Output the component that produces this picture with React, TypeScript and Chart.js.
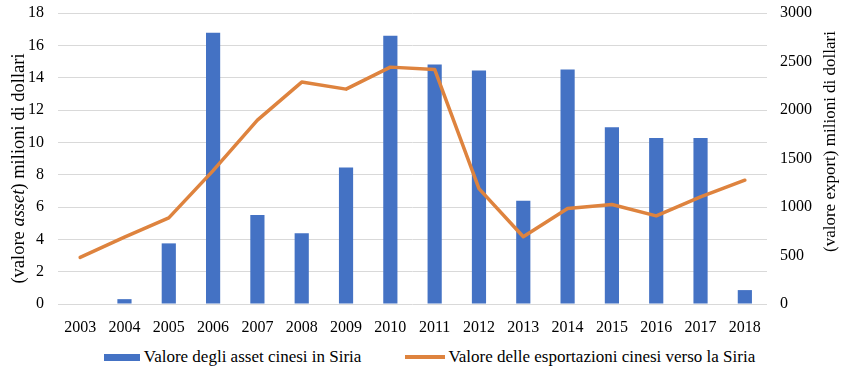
import React, { useEffect, useRef } from "react";
import { Chart, registerables } from "chart.js";

Chart.register(...registerables);

const years = ["2003", "2004", "2005", "2006", "2007", "2008", "2009", "2010", "2011", "2012", "2013", "2014", "2015", "2016", "2017", "2018"];
const assetValues = [null, 0.3, 3.75, 16.78, 5.5, 4.37, 8.44, 16.6, 14.82, 14.45, 6.38, 14.5, 10.93, 10.27, 10.27, 0.86];
const exportValues = [480, 690, 888, 1375, 1895, 2288, 2215, 2442, 2418, 1190, 693, 985, 1026, 909, 1105, 1276];
const assetLabel = "Valore degli asset cinesi in Siria";
const exportLabel = "Valore delle esportazioni cinesi verso la Siria";
const leftTitleParts = [
  { text: "(valore ", italic: false },
  { text: "asset", italic: true },
  { text: ") milioni di dollari", italic: false },
];
const rightTitle = "(valore export) milioni di dollari";

const BLUE = "#4472C4";
const ORANGE = "rgb(222,131,62)";
const FONT = "\"Liberation Serif\", \"Times New Roman\", Times, serif";

const axisTitlesPlugin = {
  id: "axisTitles",
  afterDraw(chart: any) {
    const ctx = chart.ctx;
    const { top, bottom } = chart.chartArea;
    const mid = (top + bottom) / 2;
    const yl = chart.scales.yLeft;
    const yr = chart.scales.yRight;
    ctx.save();
    ctx.fillStyle = "#000";
    ctx.textBaseline = "middle";
    ctx.textAlign = "left";
    const size = 18.5;
    const fontFor = (it: boolean) => `${it ? "italic " : ""}${size}px ${FONT}`;
    let total = 0;
    leftTitleParts.forEach((p) => {
      ctx.font = fontFor(p.italic);
      total += ctx.measureText(p.text).width;
    });
    ctx.translate(yl.left + 19, mid + 10);
    ctx.rotate(-Math.PI / 2);
    let x = -total / 2;
    leftTitleParts.forEach((p) => {
      ctx.font = fontFor(p.italic);
      ctx.fillText(p.text, x, 0);
      x += ctx.measureText(p.text).width;
    });
    ctx.restore();
    ctx.save();
    ctx.fillStyle = "#000";
    ctx.textBaseline = "middle";
    ctx.textAlign = "center";
    ctx.font = `17px ${FONT}`;
    ctx.translate(yr.right - 19, mid - 17);
    ctx.rotate(-Math.PI / 2);
    ctx.fillText(rightTitle, 0, 0);
    ctx.restore();
  },
};

export default function App() {
  const canvasRef = useRef<HTMLCanvasElement | null>(null);

  useEffect(() => {
    if (!canvasRef.current) return;
    Chart.defaults.font.family = FONT;
    Chart.defaults.color = "#000";
    const chart = new Chart(canvasRef.current, {
      type: "bar",
      data: {
        labels: years,
        datasets: [
          {
            type: "line",
            label: exportLabel,
            data: exportValues,
            yAxisID: "yRight",
            borderColor: ORANGE,
            backgroundColor: ORANGE,
            borderWidth: 3.5,
            pointRadius: 0,
            tension: 0,
            borderJoinStyle: "round",
            borderCapStyle: "round",
            order: 0,
          } as any,
          {
            type: "bar",
            label: assetLabel,
            data: assetValues,
            yAxisID: "yLeft",
            backgroundColor: BLUE,
            categoryPercentage: 1,
            barPercentage: 0.32,
            order: 1,
          } as any,
        ],
      },
      options: {
        animation: false,
        responsive: true,
        maintainAspectRatio: false,
        layout: { padding: { top: 13, bottom: 0, left: 0, right: 0 } },
        font: { family: FONT },
        plugins: {
          legend: { display: false },
          tooltip: { enabled: false },
        },
        scales: {
          x: {
            grid: { display: false },
            border: { display: false },
            ticks: { font: { size: 16, family: FONT }, padding: 6, maxRotation: 0, autoSkip: false },
            afterFit(scale: any) {
              scale.height = 36;
              scale.paddingLeft = 0;
              scale.paddingRight = 0;
            },
          },
          yLeft: {
            position: "left",
            min: 0,
            max: 18,
            ticks: { stepSize: 2, font: { size: 16, family: FONT }, padding: 14 },
            grid: { color: "#D9D9D9", lineWidth: 1, drawTicks: false },
            border: { display: false },
            afterFit(scale: any) {
              scale.width = 58;
              scale.paddingTop = 0;
              scale.paddingBottom = 0;
            },
          },
          yRight: {
            position: "right",
            min: 0,
            max: 3000,
            ticks: {
              stepSize: 500,
              font: { size: 16, family: FONT },
              padding: 13,
              callback: (v: any) => String(v),
            },
            grid: { display: false, drawTicks: false },
            border: { display: false },
            afterFit(scale: any) {
              scale.width = 83;
              scale.paddingTop = 0;
              scale.paddingBottom = 0;
            },
          },
        },
      } as any,
      plugins: [axisTitlesPlugin],
    });
    return () => chart.destroy();
  }, []);

  return (
    <div style={{ position: "absolute", left: 0, top: 0, width: 850, height: 371, background: "#fff", overflow: "hidden" }}>
      <div style={{ position: "absolute", left: 0, top: 0, width: 850, height: 340 }}>
        <canvas ref={canvasRef} />
      </div>
      <div
        style={{
          position: "absolute",
          left: 0,
          top: 346,
          width: 850,
          height: 22,
          paddingLeft: 9,
          boxSizing: "border-box",
          display: "flex",
          justifyContent: "center",
          alignItems: "center",
          fontFamily: FONT,
          fontSize: 17,
          color: "#000",
          whiteSpace: "nowrap",
        }}
      >
        <span style={{ display: "inline-block", width: 36, height: 7, background: BLUE, marginRight: 4 }} />
        <span>{assetLabel}</span>
        <span style={{ display: "inline-block", width: 40, height: 4, background: ORANGE, marginLeft: 44, marginRight: 3 }} />
        <span>{exportLabel}</span>
      </div>
    </div>
  );
}
